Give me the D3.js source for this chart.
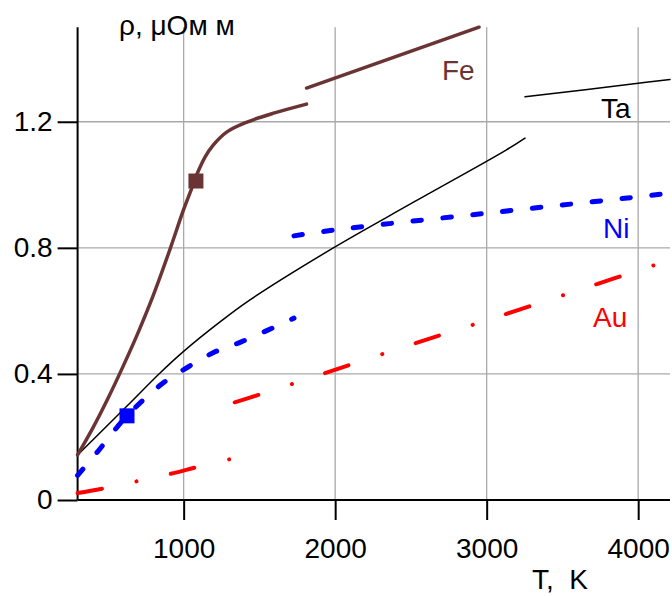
<!DOCTYPE html>
<html><head><meta charset="utf-8">
<script src="https://cdn.jsdelivr.net/npm/d3@7"></script>
<style>
html,body{margin:0;padding:0;background:#fff;}
text{font-family:"Liberation Sans",Arial,sans-serif;}
</style></head>
<body>
<svg id="c" width="672" height="596"></svg>
<script>
// Data: [T (K), rho (μΩ·m)]
const feSolid = [[300,0.143],[400,0.228],[500,0.322],[600,0.424],[700,0.532],[800,0.65],[900,0.782],[1000,0.922],[1050,0.985],[1089,1.035],[1141,1.088],[1195,1.126],[1286,1.168],[1418,1.199],[1600,1.228],[1811,1.256]];
const feLiquid = [[1811,1.307],[2950,1.50]];
const taSolid = [[300,0.143],[626,0.298],[844,0.403],[996,0.47],[1240,0.565],[1438,0.635],[1999,0.803],[2500,0.94],[3128,1.110],[3253,1.148]];
const taLiquid = [[3253,1.279],[4000,1.322],[4210,1.334]];
const niSolid = [[300,0.078],[430,0.152],[626,0.267],[864,0.371],[1029,0.422],[1207,0.47],[1372,0.5],[1728,0.577]];
const niLiquid = [[1728,0.838],[2000,0.857],[3000,0.910],[4000,0.962],[4210,0.974]];
const auSolid = [[300,0.022],[485,0.038],[696,0.060],[914,0.083],[1092,0.105],[1337,0.133]];
const auLiquid = [[1337,0.31],[1511,0.336],[1715,0.368],[2514,0.495],[2903,0.555],[3286,0.615],[3708,0.682],[4100,0.744]];
const feMarker = [1081, 1.012];
const niMarker = [626, 0.267];
const xTicks = [1000, 2000, 3000, 4000];
const yTicks = [0, 0.4, 0.8, 1.2];
const yTickLabels = ["0", "0.4", "0.8", "1.2"];
const seriesLabels = [
  {name:"Fe", T:2705, rho:1.333, color:"#6b3434"},
  {name:"Ta", T:3755, rho:1.212, color:"#000000"},
  {name:"Ni", T:3768, rho:0.831, color:"#0000ff"},
  {name:"Au", T:3702, rho:0.549, color:"#ff0000"}
];

const svg = d3.select("#c");
const x = d3.scaleLinear().domain([300, 4210]).range([77.6, 670]);
const y = d3.scaleLinear().domain([0, 1.5]).range([500, 27.2]);
const gridColor = "#a9a9a9";

// grid
svg.append("g").selectAll("line").data(xTicks).join("line")
  .attr("x1", d=>x(d)).attr("x2", d=>x(d)).attr("y1", y(1.5)).attr("y2", y(0))
  .attr("stroke", gridColor).attr("stroke-width", 1.3);
svg.append("g").selectAll("line").data(yTicks.filter(d=>d>0)).join("line")
  .attr("x1", x(300)).attr("x2", 670).attr("y1", d=>y(d)).attr("y2", d=>y(d))
  .attr("stroke", gridColor).attr("stroke-width", 1.3);

// axes
const xAxis = d3.axisBottom(x).tickValues(xTicks).tickSize(20).tickPadding(18).tickFormat(d3.format("d"));
const gx = svg.append("g").attr("transform", `translate(0,${y(0)})`).call(xAxis);
gx.select(".domain").attr("d", `M${x(300)},0H670`).attr("stroke-width", 2);
gx.selectAll(".tick line").attr("stroke-width", 2);
gx.selectAll(".tick text").attr("font-size", 28).attr("fill", "#000").attr("font-family", "Liberation Sans, Arial, sans-serif");

const yAxis = d3.axisLeft(y).tickValues(yTicks).tickSize(20).tickPadding(5).tickFormat((d,i)=>yTickLabels[i]);
const gy = svg.append("g").attr("transform", `translate(${x(300)},0)`).call(yAxis);
gy.select(".domain").attr("d", `M0,${y(1.5)}V${y(0)}`).attr("stroke-width", 2);
gy.selectAll(".tick line").attr("stroke-width", 2);
gy.selectAll(".tick text").attr("font-size", 28).attr("fill", "#000").attr("font-family", "Liberation Sans, Arial, sans-serif");

// lines
const line = d3.line().x(d=>x(d[0])).y(d=>y(d[1])).curve(d3.curveCatmullRom.alpha(0.5));
function draw(data, color, width, dash){
  const p = svg.append("path").attr("d", line(data)).attr("fill", "none")
    .attr("stroke", color).attr("stroke-width", width).attr("stroke-linecap", "round").attr("stroke-linejoin", "round");
  if (dash) p.attr("stroke-dasharray", dash);
  return p;
}
draw(taSolid, "#000", 1.5);
draw(taLiquid, "#000", 1.5);
draw(auSolid, "#ff0000", 4, "24.5 35.5 0.1 35");
draw(auLiquid, "#ff0000", 4, "24.5 35.5 0.1 35");
draw(niSolid, "#0000ff", 5, "8.5 21.5");
draw(niLiquid, "#0000ff", 5, "8.5 21.5");
draw(feSolid, "#6b3434", 3.5);
draw(feLiquid, "#6b3434", 3.5);

// markers
const sq = 15;
svg.append("rect").attr("x", x(feMarker[0])-sq/2).attr("y", y(feMarker[1])-sq/2).attr("width", sq).attr("height", sq).attr("fill", "#6b3434");
svg.append("rect").attr("x", x(niMarker[0])-sq/2).attr("y", y(niMarker[1])-sq/2).attr("width", sq).attr("height", sq).attr("fill", "#0000ff");

// series labels
svg.append("g").selectAll("text").data(seriesLabels).join("text")
  .attr("x", d=>x(d.T)).attr("y", d=>y(d.rho)).attr("text-anchor", "start")
  .attr("font-size", 28).attr("fill", d=>d.color).text(d=>d.name);

// axis titles
svg.append("text").attr("x", 119).attr("y", 35).attr("font-size", 28).text("ρ, μОм м");
svg.append("text").attr("x", 532).attr("y", 589).attr("font-size", 28).style("white-space", "pre").text("T,  K");
</script>
</body></html>
